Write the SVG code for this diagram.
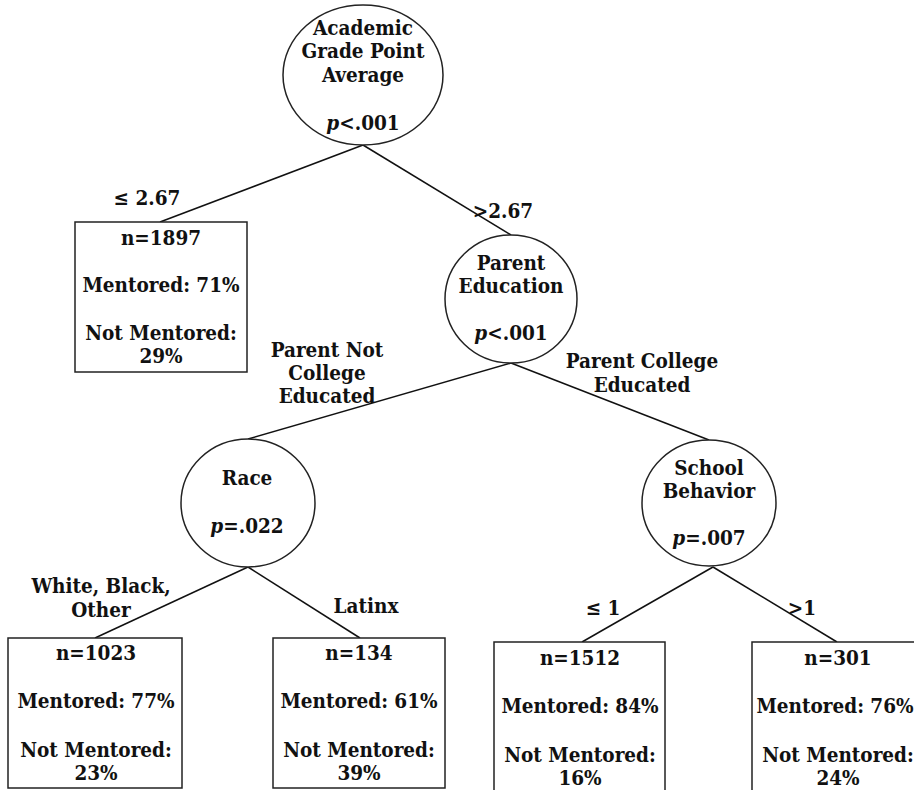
<svg xmlns="http://www.w3.org/2000/svg" width="914" height="790" viewBox="0 0 914 790">
<style>
text{font-family:"DejaVu Serif","Liberation Serif",serif;font-weight:bold;font-size:20.5px;font-stretch:condensed;fill:#111;text-anchor:middle}
.i{font-style:italic}
.node ellipse,.node rect{fill:#fff;stroke:#222;stroke-width:1.5}
#connectors line{stroke:#111;stroke-width:1.5}
</style>
<rect width="914" height="790" fill="#fff"/>
<g id="connectors">
<line x1="363" y1="145" x2="160" y2="222"/>
<line x1="363" y1="145" x2="511" y2="235"/>
<line x1="511" y1="363" x2="248" y2="439"/>
<line x1="511" y1="363" x2="709" y2="440"/>
<line x1="248" y1="567" x2="95" y2="638"/>
<line x1="248" y1="567" x2="360" y2="638"/>
<line x1="713" y1="567" x2="582" y2="642"/>
<line x1="713" y1="567" x2="837" y2="642"/>
</g>
<g id="edge-labels">
<text x="147" y="205">≤ 2.67</text>
<text x="503" y="218">&gt;2.67</text>
<text x="327" y="357">Parent Not</text>
<text x="327" y="380">College</text>
<text x="327" y="403">Educated</text>
<text x="642" y="368">Parent College</text>
<text x="642" y="392">Educated</text>
<text x="101" y="593">White, Black,</text>
<text x="101" y="617">Other</text>
<text x="366" y="613">Latinx</text>
<text x="603" y="615">≤ 1</text>
<text x="802" y="615">&gt;1</text>
</g>
<g id="n-gpa" class="node">
<ellipse cx="363" cy="75" rx="80" ry="70"/>
<text x="363" y="35">Academic</text>
<text x="363" y="58">Grade Point</text>
<text x="363" y="82">Average</text>
<text x="363" y="130"><tspan class="i">p</tspan>&lt;.001</text>
</g>
<g id="n-left" class="node">
<rect x="75" y="222" width="172" height="150"/>
<text x="161" y="245">n=1897</text>
<text x="161" y="292">Mentored: 71%</text>
<text x="161" y="340">Not Mentored:</text>
<text x="161" y="363">29%</text>
</g>
<g id="n-parent" class="node">
<ellipse cx="511" cy="299" rx="66" ry="64"/>
<text x="511" y="270">Parent</text>
<text x="511" y="293">Education</text>
<text x="511" y="340"><tspan class="i">p</tspan>&lt;.001</text>
</g>
<g id="n-race" class="node">
<ellipse cx="248" cy="503" rx="67" ry="64"/>
<text x="247" y="485">Race</text>
<text x="247" y="533"><tspan class="i">p</tspan>=.022</text>
</g>
<g id="n-school" class="node">
<ellipse cx="709" cy="503" rx="67" ry="63"/>
<text x="709" y="475">School</text>
<text x="709" y="498">Behavior</text>
<text x="709" y="545"><tspan class="i">p</tspan>=.007</text>
</g>
<g id="n-wbo" class="node">
<rect x="8" y="638" width="174" height="150"/>
<text x="96" y="660">n=1023</text>
<text x="96" y="708">Mentored: 77%</text>
<text x="96" y="757">Not Mentored:</text>
<text x="96" y="780">23%</text>
</g>
<g id="n-latinx" class="node">
<rect x="273" y="638" width="172" height="150"/>
<text x="359" y="660">n=134</text>
<text x="359" y="708">Mentored: 61%</text>
<text x="359" y="757">Not Mentored:</text>
<text x="359" y="780">39%</text>
</g>
<g id="n-le1" class="node">
<rect x="494" y="642" width="171" height="160"/>
<text x="580" y="665">n=1512</text>
<text x="580" y="713">Mentored: 84%</text>
<text x="580" y="762">Not Mentored:</text>
<text x="580" y="785">16%</text>
</g>
<g id="n-gt1" class="node">
<rect x="752" y="642" width="172" height="160"/>
<text x="838" y="665">n=301</text>
<text x="835" y="713">Mentored: 76%</text>
<text x="838" y="762">Not Mentored:</text>
<text x="838" y="785">24%</text>
</g>
</svg>
